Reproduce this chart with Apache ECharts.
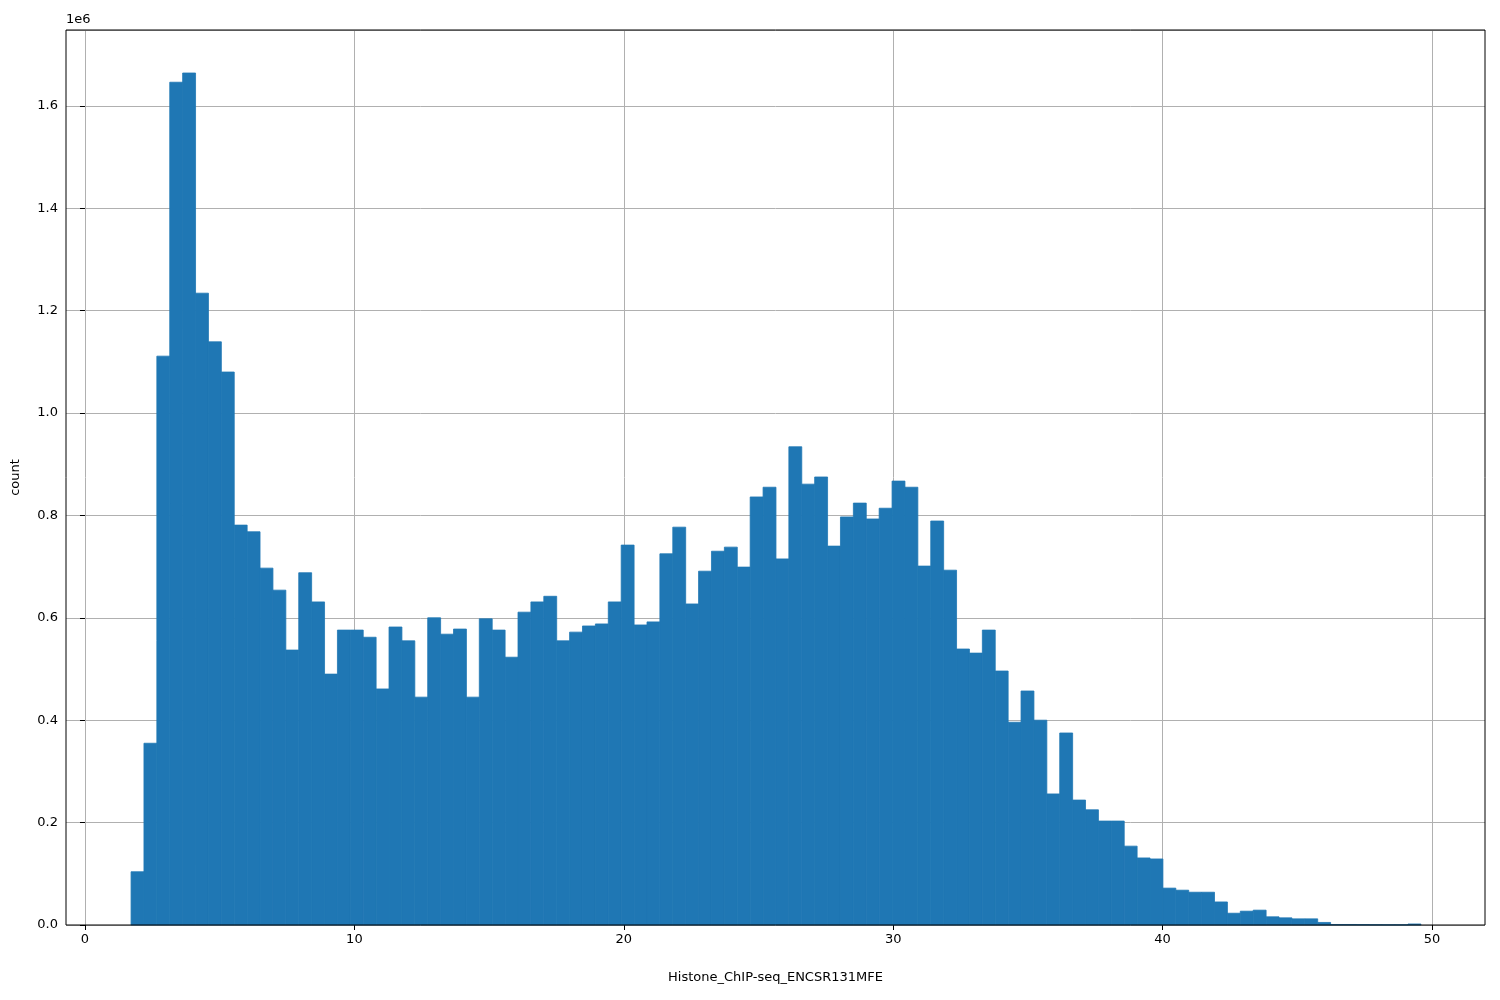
<!DOCTYPE html>
<html><head><meta charset="utf-8">
<script src="https://cdn.jsdelivr.net/npm/echarts@6/dist/echarts.min.js"></script>
<style>html,body{margin:0;padding:0;background:#fff}#c{width:1500px;height:1000px}</style>
</head><body><div id="c"></div>
<script>
const binStart = 1.71;
const binWidth = 0.4788;
const counts = [0.104,0.355,1.111,1.646,1.664,1.234,1.139,1.080,0.781,0.768,
0.697,0.654,0.537,0.688,0.631,0.490,0.576,0.576,0.562,0.461,
0.582,0.555,0.445,0.600,0.568,0.578,0.445,0.598,0.576,0.523,
0.611,0.631,0.642,0.555,0.572,0.584,0.588,0.631,0.742,0.586,
0.592,0.725,0.777,0.627,0.691,0.730,0.738,0.699,0.836,0.855,
0.715,0.934,0.861,0.875,0.740,0.797,0.824,0.793,0.814,0.867,
0.855,0.701,0.789,0.693,0.539,0.531,0.576,0.496,0.396,0.457,
0.400,0.256,0.375,0.244,0.225,0.203,0.203,0.154,0.131,0.129,
0.072,0.068,0.064,0.064,0.045,0.023,0.027,0.029,0.016,0.014,
0.012,0.012,0.005,0.001,0.001,0.0008,0.0006,0.0005,0.0005,0.002];
const xTicks = [0,10,20,30,40,50];
const data = counts.map((c,i)=>[binStart+i*binWidth, binStart+(i+1)*binWidth, c*1e6]);
const chart = echarts.init(document.getElementById('c'));
const font = 'DejaVu Sans';
chart.setOption({
  animation:false,
  grid:{left:66,right:15,top:30,bottom:75,show:true,borderColor:'#000',borderWidth:1,z:10},
  xAxis:{type:'value',min:-0.705,max:51.97,
    name:'Histone_ChIP-seq_ENCSR131MFE',nameLocation:'middle',nameGap:46,
    nameTextStyle:{color:'#000',fontSize:13,fontFamily:font},
    axisLine:{show:false},
    axisTick:{show:true,length:5,lineStyle:{color:'#000'},customValues:xTicks},
    axisLabel:{color:'#000',fontSize:13,fontFamily:font,customValues:xTicks,formatter:v=>String(Math.round(v))},
    splitLine:{show:true,lineStyle:{color:'#b0b0b0',width:1}}},
  yAxis:{type:'value',min:0,max:1.748e6,interval:0.2e6,
    name:'count',nameLocation:'middle',nameGap:44,
    nameTextStyle:{color:'#000',fontSize:13,fontFamily:font},
    axisLine:{show:false},
    axisTick:{show:true,length:5,lineStyle:{color:'#000'}},
    axisLabel:{color:'#000',fontSize:13,fontFamily:font,showMaxLabel:false,formatter:v=>(v/1e6).toFixed(1)},
    splitLine:{show:true,lineStyle:{color:'#b0b0b0',width:1}}},
  graphic:[{type:'text',left:66,top:13,style:{text:'1e6',fontSize:13,fontFamily:font,fill:'#000'}}],
  series:[{type:'custom',z:5,data:data,encode:{x:[0,1],y:2},
    renderItem:(params,api)=>{
      const p0=api.coord([api.value(0),0]);
      const p1=api.coord([api.value(1),api.value(2)]);
      return {type:'rect',shape:{x:p0[0],y:p1[1],width:p1[0]-p0[0],height:p0[1]-p1[1]},
        style:{fill:'#1f77b4',stroke:'#1f77b4',lineWidth:0.8}};
    }}]
});
</script></body></html>
